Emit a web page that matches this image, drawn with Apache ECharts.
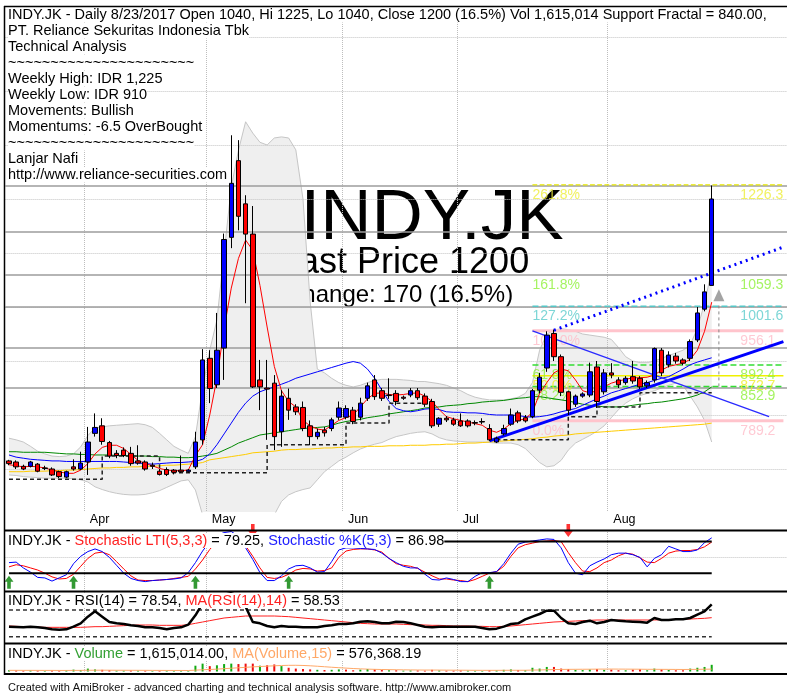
<!DOCTYPE html>
<html>
<head>
<meta charset="utf-8">
<script src="https://cdn.jsdelivr.net/npm/echarts@6/dist/echarts.min.js"></script>
<style>
  html, body { margin: 0; padding: 0; background: #fff; }
  #chart { width: 787px; height: 693px; }
</style>
</head>
<body>
<div id="chart"></div>
<script>
// bars per month shown on the chart (Mar is only the tail end)
const monthBars = [['Mar', 11], ['Apr', 17], ['May', 19], ['Jun', 16], ['Jul', 21], ['Aug', 15]];
const blankBars = 10; // empty room right of the last bar

const open = [715,713,705,705,709,702,700,695,685,704, 700,713,766,780,749,729,735,729,715,713,
  707,696,699,698,698,695,704,754,905,856, 924,1129,1271,1191,1135,865,850,859,769,831,
  815,814,780,760,772,775,796,796,809,796, 831,865,845,837,840,833,837,845,835,825,
  783,794,791,789,789,786,788,775,750,765, 783,804,795,797,846,887,951,908,843,820,
  835,837,889,843,878,865,860,871,868,854, 865,920,893,909,902,905,939,996,1040];
const high = [717,716,708,715,711,706,703,697,697,718, 732,778,803,794,752,735,740,741,744,716,
  712,700,703,700,725,700,769,922,920,989, 1136,1318,1309,1207,1187,902,902,874,846,849,
  820,825,790,775,778,795,825,818,815,832, 860,874,850,868,846,836,850,850,840,830,
  796,798,795,803,792,790,794,783,760,782, 812,808,800,848,878,955,958,912,845,838,
  842,897,900,885,896,870,872,900,872,864, 925,924,918,915,905,940,1000,1042,1225];
const low = [707,700,698,703,694,698,687,683,683,697, 698,689,760,745,720,720,722,706,708,697,
  700,688,687,690,693,693,700,745,822,850, 865,1109,1142,1007,850,809,754,735,741,791,
  800,770,744,755,760,770,791,792,783,790, 826,828,826,830,818,828,833,828,815,776,
  778,787,780,778,777,781,783,752,748,762, 780,785,786,794,840,880,900,835,800,815,
  832,833,813,838,868,850,856,858,848,850, 860,872,888,895,892,900,935,992,1040];
const close = [710,704,700,713,696,701,689,686,695,700, 711,750,777,751,724,725,725,710,711,700,
  705,690,690,694,695,698,750,902,849,920, 1125,1229,1168,1135,852,852,848,760,835,809,
  806,775,760,768,767,791,813,812,788,822, 854,834,831,836,825,831,845,832,820,780,
  794,791,783,780,780,785,787,754,757,775, 800,789,789,845,870,948,908,842,809,835,
  839,880,825,878,874,856,868,863,852,860, 923,878,911,900,896,936,989,1028,1200];

const maFast = [708,706,704,705,704,702,698,695,692,692, 698,710,728,740,744,744,738,727,716,710,
  706,701,698,697,697,698,725,745,800,868, 960,1035,1090,1124,1105,1040,963,890,845,825,
  815,790,780,774,772,781,790,795,800,815, 830,840,841,838,837,838,840,841,835,825,
  810,797,793,790,787,784,781,772,768,774, 784,790,793,805,840,860,878,885,882,865,
  845,841,845,852,859,863,866,869,869,870, 874,883,890,893,896,903,920,955,1009];
const maBlue = [726,722,720,718,717,716,715,715,714,714, 714,714,714,714,714,714,713,712,711,710,
  709,710,711,712,712,713,714,718,728,745, 765,785,805,822,835,843,848,852,857,862,
  868,872,876,880,884,888,892,896,899,896, 885,868,846,825,812,808,806,808,811,812,
  810,806,805,805,804,804,803,801,800,800, 800,799,797,796,797,799,802,806,809,812,
  818,824,830,835,841,845,849,853,857,860, 864,868,871,878,885,893,898,902,906];
const maGreen = [732,732,731,731,731,731,730,729,728,728, 727,727,726,726,726,725,725,724,724,724,
  723,723,722,722,721,721,722,724,726,729, 735,741,748,753,758,763,765,767,769,771,
  773,775,776,777,778,781,785,788,790,792, 795,797,799,802,804,806,808,810,813,814,
  815,817,818,819,821,822,824,825,826,827, 829,831,832,834,834,832,830,828,826,823,
  820,818,817,815,815,815,816,818,820,821, 823,824,826,828,830,833,837,843,852];
const maYellow = [695,695,695,696,696,696,697,697,698,698, 699,700,701,702,702,703,703,704,704,705,
  705,706,707,707,708,709,710,712,717,719, 721,723,725,727,730,731,732,733,735,736,
  736,737,737,738,739,739,740,740,741,741, 742,742,742,743,743,743,744,744,744,745,
  745,746,746,747,748,748,749,750,751,752, 753,754,755,756,758,759,761,762,763,765,
  766,767,768,769,770,771,772,773,774,775, 776,777,778,779,780,781,782,783,785];
const bbUpper = [757,754,750,742,733,728,724,723,724,728, 741,762,776,778,780,781,782,783,784,782,
  777,766,754,742,735,729,760,850,920,976, 1100,1222,1290,1343,1322,1305,1300,1313,1315,1313,
  1291,1200,1010,885,878,868,860,855,852,855, 860,864,866,866,866,865,864,862,862,860,
  858,855,850,845,838,833,830,828,828,828, 830,833,840,860,920,950,957,960,958,955,
  950,948,946,944,940,925,908,900,897,897, 900,905,910,915,920,930,960,1007,1068];
const bbLower = [689,688,686,685,684,683,683,683,683,682, 680,676,667,662,658,655,653,652,652,653,
  656,660,666,672,678,680,661,615,580,560, 540,520,520,530,540,560,585,615,640,652,
  658,662,665,680,695,705,715,722,730,737, 742,746,749,755,760,763,766,768,769,765,
  758,754,752,751,750,750,750,749,748,748, 748,745,738,725,712,704,706,716,735,748,
  755,762,770,780,795,810,822,830,836,840, 845,850,855,859,855,835,815,790,750];
const supportFractal = [681,681,681,681,681,681,681,681,681,681, 681,681,681,724,724,724,724,724,724,724,
  724,693,693,693,693,693,693,693,693,693, 693,693,693,693,693,693,745,745,745,745,
  745,745,745,745,745,745,745,785,785,785, 785,785,785,822,822,822,822,822,null,null,
  null,null,null,null,null,null,null,754,754,754, 754,754,754,754,754,754,754,754,797,797,
  797,797,815,815,815,815,815,815,841,841, 841,841,841,841,841,841,841,841,841];

// trend lines: [bar index, price]
const trendThick = [[67, 752], [108, 936]];
const trendDotted = [[76, 957], [108, 1111]];
const trendThin = [[73, 956], [106, 797]];
const targetArrow = [99, 1022];
const targetStem = [[99, 1003], [99, 848]];

const gridLevels = [700, 800, 900, 1000, 1100, 1200, 1300, 1400, 1500];
const srLevels = [1225, 1140, 1060, 1000, 925, 850];

const fibPct = ['261.8%', '161.8%', '127.2%', '100.0%', '61.8%', '50.0%', '38.2%', '0.0%'];
const fibLevels = [1226.3, 1059.3, 1001.6, 956.1, 892.4, 872.7, 852.9, 789.2];
const fibColors = ['#eeee3a', '#8ef03a', '#5ccccc', '#ffbcc8', '#8ef03a', '#eeee22', '#8ef03a', '#ffbcc8'];
const fibStart = 73;

const stochK = [40,41,30,22,12,11,5,11,17,38, 52,61,66,61,50,35,20,10,6,4,
  6,7,8,9,11,21,40,62,80,92, 97,99,90,68,46,21,6,6,15,28,
  34,35,30,22,23,42,64,68,68,67, 66,65,58,48,40,33,30,30,18,8,
  7,11,8,4,4,14,21,21,23,38, 58,75,79,81,83,85,84,68,40,20,
  17,34,41,47,55,58,58,55,50,32, 48,55,71,66,61,61,64,78,87];
const stochLTI = [32,36,34,30,26,20,13,9,10,18, 33,48,58,60,55,42,28,15,7,6,
  6,7,8,10,12,14,28,45,65,80, 90,95,92,72,52,30,12,10,12,18,
  26,29,28,24,25,30,50,62,65,66, 66,64,60,48,38,35,33,29,22,15,
  9,9,7,6,4,8,14,20,23,33, 52,68,74,77,80,81,82,80,59,40,
  24,23,30,40,45,53,58,56,49,41, 40,48,58,62,63,63,65,70,79];
const buySignals = [0, 9, 26, 39, 67];
const sellSignals = [34, 78];

const rsi = [45,44.5,44,45,44,43,41,40.5,41,45, 50,60,68,60,52,50,49,47,46,44,
  44,43,41,43,44,48,62,80,86,88, 93,95,92,75,52,50,46,44,46,45,
  45,44,44,44,46,47,49,49,50,52.5, 53,52,50,50,52.5,52,50,47.5,45,44,
  45,45,45,45,45,45,43,41,42,45, 49,50,56,60,64,69,69,58,50,49,
  52,54,50,52,55,54,53,52.5,52,51, 58,55,55,56,56,58,63,68,78.5];
const rsiMA = [46,45.5,45,45,44.5,44,44,44,44,44, 44,44.5,45,45,45.5,46,46.5,47,47.5,47.5,
  47.5,47,47,47,47,48,50,52,54,56, 58,59,60,61,61,61,61,61,60.5,60,
  59,58,57,56,55,54,53,52,51,50, 49.5,49,49,49,49,48.5,48,48,47.5,47,
  47,46.5,46,46,46,45.5,45.5,45,45,45.5, 46,47,48,49,50,51,52,52.5,53,53.5,
  54,54.5,55,55,55,55,55,55,55,55, 55,55.5,55.5,56,56,56.5,57,57.5,58.5];

// volume in thousands of shares
const volume = [300,250,200,250,200,150,250,200,250,450, 350,700,500,400,300,200,200,250,200,200,
  150,200,200,150,200,150,1400,1900,1300,1500, 1800,1900,1800,1900,1900,1400,1500,1700,1300,900,
  700,600,500,400,350,400,500,450,300,450, 600,500,350,300,300,200,250,250,200,400,
  250,200,200,250,200,150,150,300,250,400, 500,350,300,900,700,1100,1100,700,600,400,
  350,500,600,400,450,300,300,450,550,300, 700,500,400,300,300,700,900,1100,1615];
const volumeMA = [280,280,275,275,270,265,265,260,260,265, 270,300,310,315,310,300,295,290,285,280,
  270,265,260,255,250,245,320,420,490,570, 680,790,900,1010,1120,1200,1290,1380,1450,1490,
  1500,1460,1380,1270,1150,1030,920,820,720,640, 570,520,480,450,420,400,380,360,350,350,
  340,330,320,310,300,290,280,280,280,290, 300,300,300,340,370,420,470,500,520,530,
  540,550,570,580,590,580,570,560,550,530, 530,520,510,500,490,500,520,550,576];

const titleLines = [
  'INDY.JK - Daily 8/23/2017 Open 1040, Hi 1225, Lo 1040, Close 1200 (16.5%) Vol 1,615,014 Support Fractal = 840.00,',
  'PT. Reliance Sekuritas Indonesia Tbk',
  'Technical Analysis',
  '~~~~~~~~~~~~~~~~~~~~~~',
  'Weekly High: IDR 1,225',
  'Weekly Low: IDR 910',
  'Movements: Bullish',
  'Momentums: -6.5 OverBought',
  '~~~~~~~~~~~~~~~~~~~~~~',
  'Lanjar Nafi',
  'http://www.reliance-securities.com'
];

// ---- build categories ----
const categories = [];
const monthStart = {};
monthBars.forEach(([m, n]) => {
  monthStart[categories.length] = m;
  for (let k = 0; k < n; k++) categories.push(m + ' ' + (k + 1));
});
for (let k = 0; k < blankBars; k++) categories.push('');
const isMonthStart = (idx) => idx > 0 && monthStart[idx] !== undefined;
const lastBar = open.length - 1;

const FONT = '"Liberation Sans", Arial, Helvetica, sans-serif';
const chart = echarts.init(document.getElementById('chart'));

const xAxisFor = (gridIndex, withLabels) => ({
  type: 'category', gridIndex, data: categories, boundaryGap: true, z: 0.3,
  axisLine: { show: false }, axisTick: { show: false },
  axisLabel: withLabels ? {
    show: true, interval: (idx) => isMonthStart(idx), formatter: (v, idx) => monthStart[idx],
    align: 'left', padding: [0, 0, 0, 2], margin: 1, fontSize: 12.5, color: '#000', fontFamily: FONT
  } : { show: false },
  splitLine: { show: true, interval: (idx) => isMonthStart(idx),
    lineStyle: { type: 'dotted', color: '#bdbdbd', width: 1 } }
});

const plainLine = (name, data, color, width, z, extra) => Object.assign({
  name, type: 'line', xAxisIndex: 0, yAxisIndex: 0, data, showSymbol: false, symbol: 'none',
  lineStyle: { color, width }, z, silent: true
}, extra || {});

const series = [];

// Bollinger cloud
series.push({
  type: 'custom', xAxisIndex: 0, yAxisIndex: 0, z: 0.2, clip: true, silent: true,
  data: bbUpper.map((v, i) => [i, v]),
  renderItem: (params, api) => {
    if (params.dataIndex !== 0) return null;
    const pts = [];
    for (let i = 0; i < bbUpper.length; i++) pts.push(api.coord([i, bbUpper[i]]));
    for (let i = bbLower.length - 1; i >= 0; i--) pts.push(api.coord([i, bbLower[i]]));
    return { type: 'polygon', shape: { points: pts }, style: { fill: '#efefef', stroke: null } };
  }
});
series.push(plainLine('bbUpper', bbUpper, '#c6c6c6', 1, 0.25, {
  markLine: { silent: true, symbol: 'none', z: 0.3, animation: false, label: { show: false },
    lineStyle: { type: 'dotted', color: '#c4c4c4', width: 1 },
    data: gridLevels.map(v => ({ yAxis: v })) }
}));
series.push(plainLine('bbLower', bbLower, '#c6c6c6', 1, 0.25, {
  markLine: { silent: true, symbol: 'none', z: 0.6, animation: false, label: { show: false },
    lineStyle: { type: 'solid', color: '#9c9c9c', width: 1.5 },
    data: srLevels.map(v => ({ yAxis: v })) }
}));

// Fibonacci levels
const fibLineStyles = [
  { color: '#e6e600', width: 1.2, type: 'dashed' },
  null,
  { color: '#55c8c8', width: 1.5, type: 'dashed' },
  { color: '#ffc4cc', width: 3, type: 'solid' },
  { color: '#33dd33', width: 1.5, type: 'dashed' },
  { color: '#f0f000', width: 1.5, type: 'solid' },
  { color: '#33dd33', width: 1.5, type: 'dashed' },
  { color: '#ffc4cc', width: 3, type: 'solid' }
];
fibLevels.forEach((lv, k) => {
  if (!fibLineStyles[k]) return;
  series.push(plainLine('fib' + k, [[fibStart, lv], [categories.length - 1, lv]], fibLineStyles[k].color,
    fibLineStyles[k].width, 0.65, { lineStyle: fibLineStyles[k] }));
});
const fibLabelSeries = (xIdx, textOf) => ({
  type: 'scatter', xAxisIndex: 0, yAxisIndex: 0, z: 0.7, silent: true, symbolSize: 0.1,
  itemStyle: { color: 'rgba(0,0,0,0)' },
  label: { show: true, position: [0, 3], align: 'left', verticalAlign: 'top', fontSize: 14, fontFamily: FONT },
  data: fibLevels.map((lv, k) => ({ value: [xIdx, lv],
    label: { formatter: textOf(k), color: fibColors[k] } }))
});
series.push(fibLabelSeries(fibStart, k => fibPct[k]));
series.push(fibLabelSeries(102, k => fibLevels[k].toFixed(1)));

// moving averages and support line
series.push(plainLine('maYellow', maYellow, '#ffcc00', 1, 2));
series.push(plainLine('maGreen', maGreen, '#008800', 1, 2));
series.push(plainLine('maBlue', maBlue, '#0000ff', 1, 2));
series.push(plainLine('maFast', maFast, '#ff0000', 1, 2.1));
series.push(plainLine('support', supportFractal, '#222', 1.5, 2, {
  step: 'end', connectNulls: false, lineStyle: { color: '#222', width: 1.5, type: [4, 3] } }));

// trend lines
series.push(plainLine('trendThick', trendThick, '#0000ff', 3, 2.5));
series.push(plainLine('trendDotted', trendDotted, '#0000ff', 3, 2.5, {
  lineStyle: { color: '#0000ff', width: 3, type: [2, 4] } }));
series.push(plainLine('trendThin', trendThin, '#2a2aff', 1.3, 2.5));
series.push(plainLine('targetStem', targetStem, '#888', 1, 2.5, {
  lineStyle: { color: '#888', width: 1, type: [3, 3] } }));
series.push({ type: 'scatter', xAxisIndex: 0, yAxisIndex: 0, z: 2.6, silent: true,
  symbol: 'triangle', symbolSize: [11, 12], itemStyle: { color: '#8c8c8c' }, data: [targetArrow] });

// candles
series.push({
  type: 'candlestick', xAxisIndex: 0, yAxisIndex: 0, z: 3, silent: true, barWidth: 5,
  data: open.map((o, i) => [o, close[i], low[i], high[i]]),
  itemStyle: { color: '#0000ff', color0: '#ff0000', borderColor: '#000', borderColor0: '#000', borderWidth: 1 }
});

// stochastic panel
series.push({ type: 'line', xAxisIndex: 1, yAxisIndex: 1, data: stochLTI, symbol: 'none', silent: true, z: 2,
  lineStyle: { color: '#ff0000', width: 1 },
  markLine: { silent: true, symbol: 'none', z: 0.3, animation: false, label: { show: false },
    lineStyle: { type: 'dotted', color: '#c4c4c4', width: 1 }, data: [{ yAxis: 50 }] } });
series.push({ type: 'line', xAxisIndex: 1, yAxisIndex: 1, data: stochK, symbol: 'none', silent: true, z: 2,
  lineStyle: { color: '#0000ff', width: 1 } });
[80, 20].forEach(lv => series.push({ type: 'line', xAxisIndex: 1, yAxisIndex: 1, symbol: 'none', silent: true, z: 2.2,
  data: [[0, lv], [lastBar, lv]], lineStyle: { color: '#000', width: 2 } }));
series.push({ type: 'scatter', xAxisIndex: 1, yAxisIndex: 1, z: 3, silent: true, clip: false,
  symbol: 'path://M5 0 L10 6 L7 6 L7 13 L3 13 L3 6 L0 6 Z', symbolSize: [9, 13],
  itemStyle: { color: '#008000' }, data: buySignals.map(i => [i, 3]) });
series.push({ type: 'scatter', xAxisIndex: 1, yAxisIndex: 1, z: 3, silent: true, clip: false,
  symbol: 'path://M3 0 L7 0 L7 7 L10 7 L5 13 L0 7 L3 7 Z', symbolSize: [9, 13],
  itemStyle: { color: '#ff0000' }, data: sellSignals.map(i => [i, 101]) });

// RSI panel
series.push({ type: 'line', xAxisIndex: 2, yAxisIndex: 2, data: rsiMA, symbol: 'none', silent: true, z: 2,
  lineStyle: { color: '#ff2020', width: 1 } });
series.push({ type: 'line', xAxisIndex: 2, yAxisIndex: 2, data: rsi, symbol: 'none', silent: true, z: 2.1,
  lineStyle: { color: '#000', width: 2.5 } });
[70, 30].forEach(lv => series.push({ type: 'line', xAxisIndex: 2, yAxisIndex: 2, symbol: 'none', silent: true, z: 1.9,
  data: [[0, lv], [lastBar, lv]], lineStyle: { color: '#333', width: 1.5, type: [4, 3] } }));

// volume panel
series.push({ type: 'bar', xAxisIndex: 3, yAxisIndex: 3, barWidth: 2, silent: true, z: 2,
  data: volume.map((v, i) => ({ value: v,
    itemStyle: { color: (i === 0 || close[i] >= close[i - 1]) ? '#11aa11' : '#ee1111' } })) });
series.push({ type: 'line', xAxisIndex: 3, yAxisIndex: 3, data: volumeMA, symbol: 'none', silent: true, z: 2.1,
  lineStyle: { color: '#ffa868', width: 1 } });

// ---- texts and frame ----
const graphic = [];
titleLines.forEach((t, k) => graphic.push({
  type: 'text', x: 8, y: 15 + 16 * k, z: 0.5, silent: true,
  style: { text: t, font: '14.5px ' + FONT, fill: '#000', align: 'left', verticalAlign: 'middle', backgroundColor: '#fff' }
}));
graphic.push({ type: 'text', x: 300.5, y: 219, z: 0.1, silent: true,
  style: { text: 'INDY.JK', font: '71px ' + FONT, fill: '#000', align: 'left', verticalAlign: 'middle' } });
graphic.push({ type: 'text', x: 279, y: 263, z: 0.1, silent: true,
  style: { text: 'Last Price 1200', font: '36px ' + FONT, fill: '#000', align: 'left', verticalAlign: 'middle' } });
graphic.push({ type: 'text', x: 285, y: 295, z: 0.1, silent: true,
  style: { text: 'Change: 170 (16.5%)', font: '24px ' + FONT, fill: '#000', align: 'left', verticalAlign: 'middle' } });

const panelTitle = (y, text, rich) => ({
  type: 'text', x: 8, y, z: 10, silent: true,
  style: { text, rich, font: '14.5px ' + FONT, fill: '#000', align: 'left', verticalAlign: 'middle', backgroundColor: '#fff' }
});
const rc = (c) => ({ fill: c, font: '14.5px ' + FONT });
graphic.push(panelTitle(540.5, 'INDY.JK - {r|Stochastic LTI(5,3,3)} = 79.25, {b|Stochastic %K(5,3)} = 86.98',
  { r: rc('#ff2020'), b: rc('#2020ff') }));
graphic.push(panelTitle(600.5, 'INDY.JK - RSI(14) = 78.54, {r|MA(RSI(14),14)} = 58.53', { r: rc('#ff2020') }));
graphic.push(panelTitle(653.5, 'INDY.JK - {g|Volume} = 1,615,014.00, {o|MA(Volume,15)} = 576,368.19',
  { g: rc('#33a033'), o: rc('#ffa868') }));
graphic.push({ type: 'text', x: 8, y: 688, z: 10, silent: true,
  style: { text: 'Created with AmiBroker - advanced charting and technical analysis software. http://www.amibroker.com',
    font: '11px ' + FONT, fill: '#111', align: 'left', verticalAlign: 'middle' } });

const hLine = (y, w) => ({ type: 'line', z: 20, silent: true, shape: { x1: 4, y1: y, x2: 787, y2: y },
  style: { stroke: '#000', lineWidth: w } });
graphic.push(hLine(6.5, 1.5), hLine(530.5, 2), hLine(591.5, 2), hLine(643.5, 2), hLine(674, 2));
graphic.push({ type: 'line', z: 20, silent: true, shape: { x1: 4.5, y1: 6, x2: 4.5, y2: 675 },
  style: { stroke: '#000', lineWidth: 1.5 } });

chart.setOption({
  animation: false,
  backgroundColor: '#fff',
  grid: [
    { left: 5.4, width: 783.7, top: 6, height: 506 },
    { left: 5.4, width: 783.7, top: 530, height: 61 },
    { left: 5.4, width: 783.7, top: 592, height: 50 },
    { left: 5.4, width: 783.7, top: 645, height: 26.5 }
  ],
  xAxis: [xAxisFor(0, true), xAxisFor(1, false), xAxisFor(2, false), xAxisFor(3, false)],
  yAxis: [
    { type: 'value', gridIndex: 0, min: 620.4, max: 1557.4, show: false },
    { type: 'value', gridIndex: 1, min: -13.8, max: 101.9, show: false },
    { type: 'value', gridIndex: 2, min: 22, max: 97, show: false },
    { type: 'value', gridIndex: 3, min: 0, max: 6400, show: false }
  ],
  series,
  graphic
});
</script>
</body>
</html>
